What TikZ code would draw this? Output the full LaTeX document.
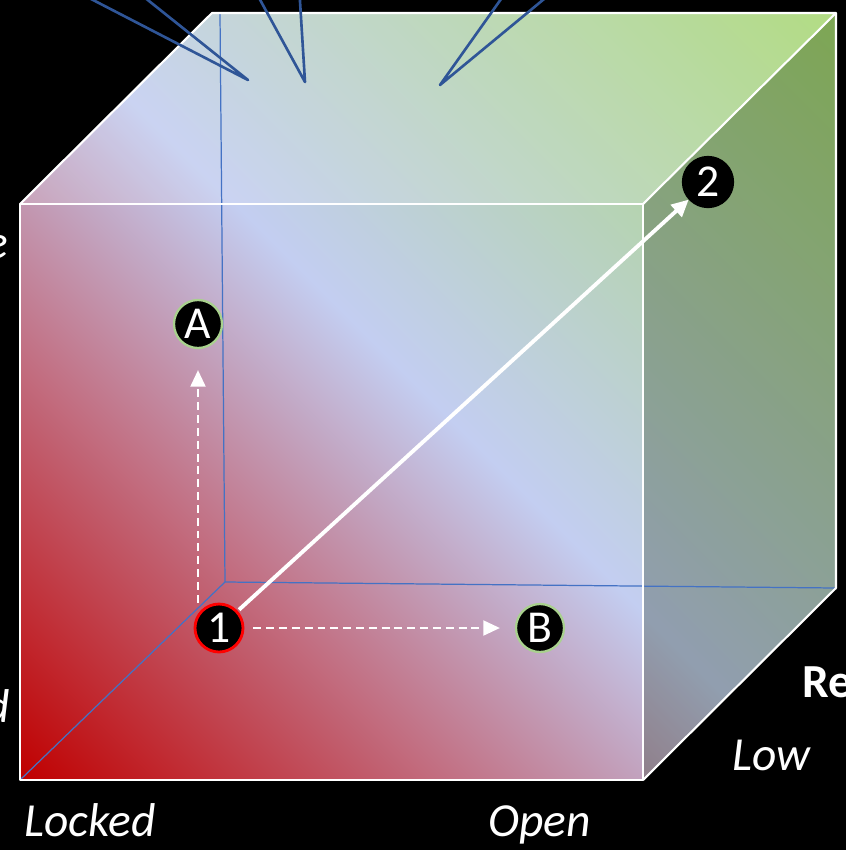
\documentclass[tikz,border=0pt]{standalone}
\usepackage{fontspec}
\setmainfont{Carlito}
\usetikzlibrary{arrows.meta, calc}
\definecolor{cbred}{HTML}{C00000}
\definecolor{cbblue}{HTML}{C3CEF1}
\definecolor{cbgreen}{HTML}{A8D873}
\definecolor{cbshadow}{HTML}{0C2000}
\definecolor{cbhidden}{HTML}{4472C4}
\definecolor{cbcallout}{HTML}{2F5597}
\definecolor{cbring}{HTML}{A9D18E}
\definecolor{cbstart}{HTML}{FF0000}
\pgfdeclarehorizontalshading{cubefill}{100bp}{color(0bp)=(cbred); color(14.6bp)=(cbred);
  color(50bp)=(cbblue); color(85.4bp)=(cbgreen); color(100bp)=(cbgreen)}
\tikzset{
  every picture/.style={line join=round},
  rim/.style={draw=white, line width=1.2pt},
  hidden/.style={draw=cbhidden, line width=0.7pt},
  callout/.style={draw=cbcallout, line width=1.5pt},
  marker/.style={circle, fill=black, draw=cbring, line width=1.3pt, text=white,
    minimum size=0.96cm, inner sep=0pt, font=\fontsize{26}{26}\selectfont},
  startmarker/.style={marker, draw=cbstart, line width=1.6pt},
  endmarker/.style={marker, draw=black, minimum size=1cm},
  move/.style={-{Triangle[length=3.3mm, width=3mm]}, draw=white, line width=1.1pt,
    dash pattern=on 4.5pt off 2.8pt},
  route/.style={-{Triangle[length=3.4mm, width=3.2mm]}, draw=white, line width=2.2pt},
  axislbl/.style={text=white, inner sep=0pt, font=\fontsize{27}{30}\selectfont\itshape},
  axishead/.style={axislbl, font=\fontsize{27}{30}\selectfont\bfseries},
}

\begin{document}
\begin{tikzpicture}[x=0.02cm, y=-0.02cm]
\useasboundingbox (0,0) rectangle (846,850);
\fill[black] (0,0) rectangle (846,850);

% ---- cube body: one diagonal gradient, darker right face, lighter top face
\shade[shading=cubefill, shading angle=45]
  (20,780) -- (20,204) -- (212,13) -- (836,13) -- (836,588) -- (643,780) -- cycle;
\fill[cbshadow, opacity=0.27] (643,204) -- (836,13) -- (836,588) -- (643,780) -- cycle;
\fill[white, opacity=0.12] (20,204) -- (212,13) -- (836,13) -- (643,204) -- cycle;

% ---- hidden edges
\draw[hidden] (220,13) -- (225,582) -- (836,588);
\draw[hidden] (20,780) -- (225,582);

% ---- visible edges
\draw[rim] (20,204) rectangle (643,780);
\draw[rim] (20,204) -- (212,13) -- (836,13) -- (643,204);
\draw[rim] (836,13) -- (836,588) -- (643,780);

% ---- states and moves
\node[startmarker] (one) at (219,628) {1};
\node[endmarker] (two) at (708,182) {2};
\node[marker] (ptA) at (198,324) {A};
\node[marker] (ptB) at (540,628) {B};
\draw[route, shorten <=1pt] (one) -- (two);
\draw[move, shorten >=0.42cm] (ptA |- one.north) -- (ptA.south);
\draw[move, shorten <=0.18cm, shorten >=0.3cm] (one.east) -- (ptB.west);

% ---- callout pointers from above
\coordinate (tipL) at (248,80);
\coordinate (tipM) at (305,82);
\coordinate (tipR) at (440,85);
\draw[callout] (64,-15) -- (tipL) -- (129,-15);
\draw[callout] (252,-15) -- (tipM) -- (299,-15);
\draw[callout] (511,-15) -- (tipR) -- (561,-15);

% ---- axis labels
\node[axislbl, anchor=base west] (locked) at (24,836) {Locked};
\node[axislbl, anchor=base west] (open) at (488,836) {Open};
\node[axislbl, anchor=base west] (low) at (732,770) {Low};
\node[axishead, anchor=base west] (re) at (802,697) {Re};
\node[axislbl, anchor=base east] (uppere) at (9,258) {e};
\node[axislbl, anchor=base east] (lowerd) at (10,722) {d};

\end{tikzpicture}
\end{document}
